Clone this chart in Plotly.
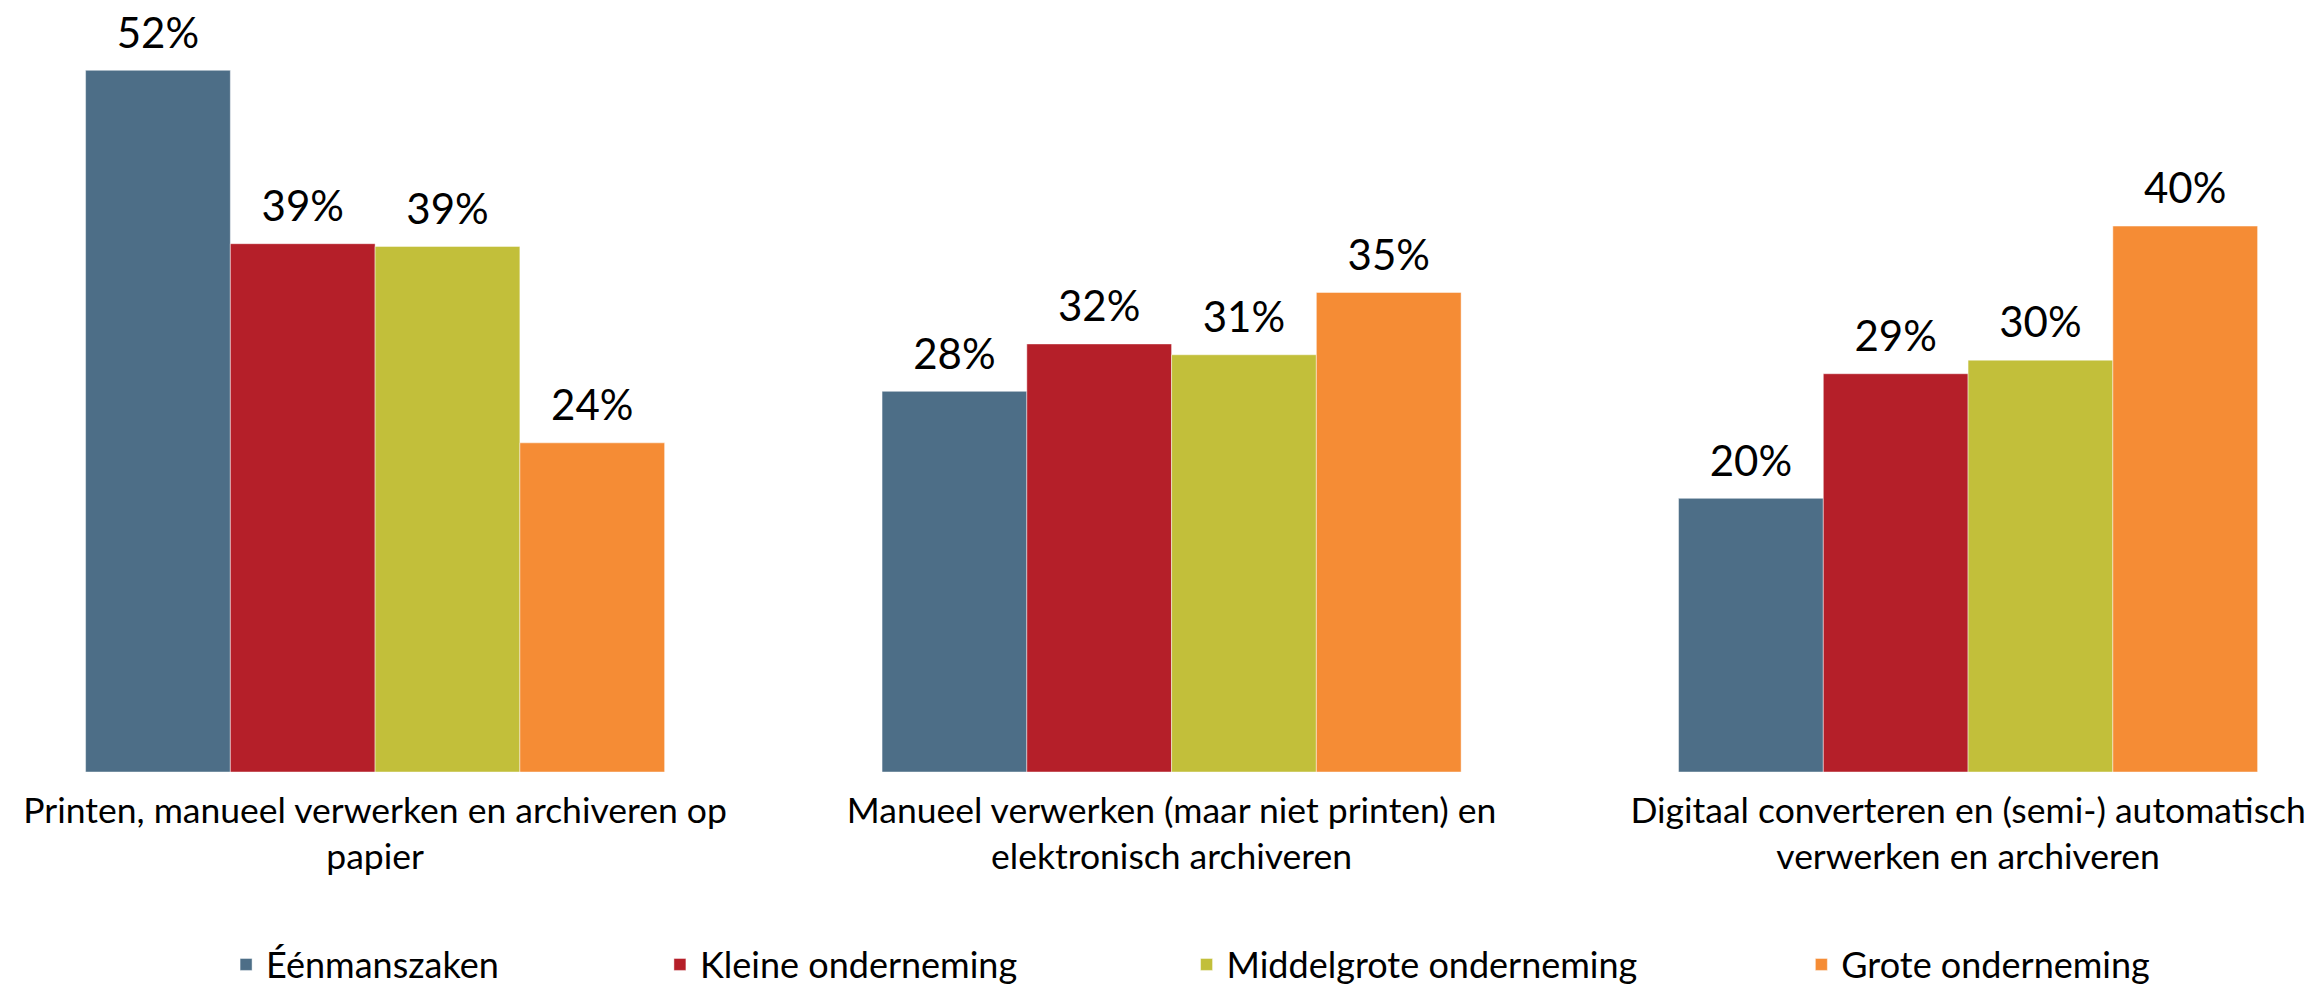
import plotly.graph_objects as go

categories = [
    "Printen, manueel verwerken en archiveren op<br>papier",
    "Manueel verwerken (maar niet printen) en<br>elektronisch archiveren",
    "Digitaal converteren en (semi-) automatisch<br>verwerken en archiveren",
]
series_names = ["Éénmanszaken", "Kleine onderneming", "Middelgrote onderneming", "Grote onderneming"]
eenmanszaken = [51.8, 28.1, 20.2]
kleine = [39.0, 31.6, 29.4]
middelgrote = [38.8, 30.8, 30.4]
grote = [24.3, 35.4, 40.3]
series_values = [eenmanszaken, kleine, middelgrote, grote]
colors = ["#4D6E87", "#B51F29", "#C2BF3A", "#F58C35"]
legend_x = [0.094, 0.281, 0.508, 0.773]

FONT = "Lato"
GAP = 0.273

fig = go.Figure()
for i, (name, vals, col) in enumerate(zip(series_names, series_values, colors)):
    lg = "legend" if i == 0 else f"legend{i+1}"
    fig.add_trace(go.Bar(
        x=categories, y=vals, name=name,
        marker=dict(color=col, line=dict(color="rgba(255,255,255,0.45)", width=1)),
        offsetgroup=str(i), legend=lg, hoverinfo="skip",
    ))
for i, (name, vals) in enumerate(zip(series_names, series_values)):
    fig.add_trace(go.Scatter(
        x=categories, y=vals, mode="markers+text",
        text=[f"{round(v)}%" for v in vals], textposition="top center",
        textfont=dict(family=FONT, size=42, color="black"),
        marker=dict(size=18, color="rgba(0,0,0,0)"),
        orientation="v", offsetgroup=str(i), showlegend=False, hoverinfo="skip",
        cliponaxis=False,
    ))

layout_legends = {}
for i, lx in enumerate(legend_x):
    key = "legend" if i == 0 else f"legend{i+1}"
    layout_legends[key] = dict(
        x=lx, xanchor="left", y=-0.252, yanchor="middle", orientation="h",
        font=dict(family=FONT, size=36, color="black"), bgcolor="rgba(0,0,0,0)",
    )

fig.update_layout(
    width=2320, height=987,
    margin=dict(l=0, r=0, t=0, b=201),
    paper_bgcolor="white", plot_bgcolor="white",
    barmode="group", bargap=GAP, bargroupgap=0,
    scattermode="group", scattergap=GAP,
    font=dict(family=FONT, color="black"),
    xaxis=dict(range=[-0.4609, 2.4519], showgrid=False, showline=False, zeroline=False,
               ticks="", tickfont=dict(family=FONT, size=35.5, color="black"), ticklabelstandoff=14),
    yaxis=dict(range=[0, 56.4], visible=False, showgrid=False, zeroline=False),
    **layout_legends,
)

fig.write_html("out.html")
